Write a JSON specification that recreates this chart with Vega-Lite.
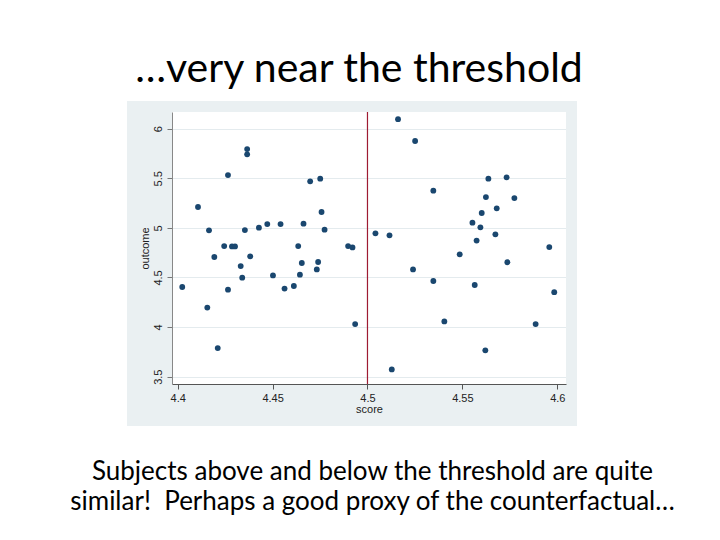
{
  "$schema": "https://vega.github.io/schema/vega-lite/v6.json",
  "width": 394,
  "height": 272,
  "autosize": {"type": "none"},
  "padding": {"left": 172, "top": 112, "right": 154, "bottom": 156},
  "background": "white",
  "config": {"view": {"fill": "white", "stroke": null}},
  "title": {
    "text": "…very near the threshold",
    "font": "Lato",
    "fontSize": 41,
    "fontWeight": "normal",
    "color": "#000000",
    "anchor": "middle",
    "frame": "group",
    "dx": -10,
    "offset": 10
  },
  "data": {
    "values": [
      {"score": 4.4024, "outcome": 4.404},
      {"score": 4.4107, "outcome": 5.210},
      {"score": 4.4156, "outcome": 4.196},
      {"score": 4.4165, "outcome": 4.975},
      {"score": 4.4193, "outcome": 4.706},
      {"score": 4.4211, "outcome": 3.788},
      {"score": 4.4245, "outcome": 4.816},
      {"score": 4.4265, "outcome": 5.532},
      {"score": 4.4265, "outcome": 4.377},
      {"score": 4.4286, "outcome": 4.813},
      {"score": 4.4302, "outcome": 4.813},
      {"score": 4.4332, "outcome": 4.615},
      {"score": 4.4340, "outcome": 4.498},
      {"score": 4.4354, "outcome": 4.978},
      {"score": 4.4366, "outcome": 5.794},
      {"score": 4.4366, "outcome": 5.741},
      {"score": 4.4382, "outcome": 4.713},
      {"score": 4.4428, "outcome": 5.002},
      {"score": 4.4472, "outcome": 5.038},
      {"score": 4.4502, "outcome": 4.521},
      {"score": 4.4542, "outcome": 5.038},
      {"score": 4.4563, "outcome": 4.388},
      {"score": 4.4612, "outcome": 4.414},
      {"score": 4.4635, "outcome": 4.816},
      {"score": 4.4644, "outcome": 4.528},
      {"score": 4.4654, "outcome": 4.646},
      {"score": 4.4663, "outcome": 5.042},
      {"score": 4.4698, "outcome": 5.469},
      {"score": 4.4733, "outcome": 4.581},
      {"score": 4.4740, "outcome": 4.656},
      {"score": 4.4751, "outcome": 5.496},
      {"score": 4.4758, "outcome": 5.160},
      {"score": 4.4774, "outcome": 4.982},
      {"score": 4.4898, "outcome": 4.816},
      {"score": 4.4921, "outcome": 4.803},
      {"score": 4.4935, "outcome": 4.030},
      {"score": 4.5042, "outcome": 4.945},
      {"score": 4.5116, "outcome": 4.925},
      {"score": 4.5128, "outcome": 3.573},
      {"score": 4.5161, "outcome": 6.096},
      {"score": 4.5240, "outcome": 4.581},
      {"score": 4.5251, "outcome": 5.876},
      {"score": 4.5347, "outcome": 5.375},
      {"score": 4.5347, "outcome": 4.464},
      {"score": 4.5405, "outcome": 4.057},
      {"score": 4.5486, "outcome": 4.733},
      {"score": 4.5553, "outcome": 5.052},
      {"score": 4.5565, "outcome": 4.424},
      {"score": 4.5575, "outcome": 4.872},
      {"score": 4.5595, "outcome": 5.005},
      {"score": 4.5602, "outcome": 5.150},
      {"score": 4.5621, "outcome": 3.765},
      {"score": 4.5624, "outcome": 5.310},
      {"score": 4.5637, "outcome": 5.496},
      {"score": 4.5674, "outcome": 4.935},
      {"score": 4.5681, "outcome": 5.197},
      {"score": 4.5733, "outcome": 5.509},
      {"score": 4.5737, "outcome": 4.653},
      {"score": 4.5774, "outcome": 5.300},
      {"score": 4.5886, "outcome": 4.030},
      {"score": 4.5958, "outcome": 4.806},
      {"score": 4.5984, "outcome": 4.352}
    ]
  },
  "resolve": {"axis": {"x": "independent", "y": "independent"}},
  "layer": [
    {
      "data": {"values": [{}]},
      "mark": {"type": "rect", "color": "#eaf0f2"},
      "encoding": {
        "x": {"datum": 4.3733, "type": "quantitative", "scale": {"domain": [4.397, 4.6046], "nice": false, "zero": false}, "axis": null},
        "x2": {"datum": 4.6104},
        "y": {"datum": 6.168, "type": "quantitative", "scale": {"domain": [3.426, 6.168], "nice": false, "zero": false},
              "axis": {"orient": "left", "grid": true, "gridColor": "#e4ebee", "gridWidth": 1, "domain": false, "ticks": false, "labels": false, "title": null, "values": [3.5, 4, 4.5, 5, 5.5, 6], "zindex": 0}},
        "y2": {"datum": 6.2789}
      }
    },
    {
      "data": {"values": [{}]},
      "mark": {"type": "rect", "color": "#eaf0f2"},
      "encoding": {
        "x": {"datum": 4.3733, "type": "quantitative", "scale": {"domain": [4.397, 4.6046], "nice": false, "zero": false}, "axis": null},
        "x2": {"datum": 4.6104},
        "y": {"datum": 3.0027, "type": "quantitative", "scale": {"domain": [3.426, 6.168], "nice": false, "zero": false}, "axis": null},
        "y2": {"datum": 3.426}
      }
    },
    {
      "data": {"values": [{}]},
      "mark": {"type": "rect", "color": "#eaf0f2"},
      "encoding": {
        "x": {"datum": 4.3733, "type": "quantitative", "scale": {"domain": [4.397, 4.6046], "nice": false, "zero": false}, "axis": null},
        "x2": {"datum": 4.397},
        "y": {"datum": 3.426, "type": "quantitative", "scale": {"domain": [3.426, 6.168], "nice": false, "zero": false}, "axis": null},
        "y2": {"datum": 6.168}
      }
    },
    {
      "data": {"values": [{}]},
      "mark": {"type": "rect", "color": "#eaf0f2"},
      "encoding": {
        "x": {"datum": 4.6046, "type": "quantitative", "scale": {"domain": [4.397, 4.6046], "nice": false, "zero": false}, "axis": null},
        "x2": {"datum": 4.6104},
        "y": {"datum": 3.426, "type": "quantitative", "scale": {"domain": [3.426, 6.168], "nice": false, "zero": false}, "axis": null},
        "y2": {"datum": 6.168}
      }
    },
    {
      "data": {"values": [{}]},
      "mark": {"type": "rule", "color": "#9e1b32", "strokeWidth": 1.2},
      "encoding": {
        "x": {
          "datum": 4.5,
          "type": "quantitative",
          "scale": {"domain": [4.397, 4.6046], "nice": false, "zero": false},
          "axis": {
            "orient": "bottom",
            "domain": false,
            "ticks": false,
            "labels": false,
            "grid": false,
            "zindex": 1,
            "title": ["Subjects above and below the threshold are quite", "similar!\u00a0 Perhaps a good proxy of the counterfactual…"],
            "titleFont": "Lato",
            "titleFontSize": 26,
            "titleFontWeight": "normal",
            "titleColor": "#000000",
            "titleLineHeight": 30,
            "titlePadding": 74,
            "titleLimit": 2000,
            "titleX": 200
          }
        }
      }
    },
    {
      "mark": {"type": "circle", "size": 34, "color": "#1a476f", "opacity": 1},
      "encoding": {
        "x": {
          "field": "score",
          "type": "quantitative",
          "scale": {"domain": [4.397, 4.6046], "nice": false, "zero": false},
          "axis": {
            "orient": "bottom",
            "values": [4.4, 4.45, 4.5, 4.55, 4.6],
            "format": ".2~f",
            "grid": false,
            "zindex": 1,
            "title": "score",
            "titleFont": "Liberation Sans",
            "titleFontSize": 11,
            "titleFontWeight": "normal",
            "titleColor": "#222222",
            "titlePadding": 0,
            "labelFont": "Liberation Sans",
            "labelFontSize": 11,
            "labelColor": "#222222",
            "labelPadding": 3,
            "labelFlush": false,
            "tickSize": 5,
            "tickColor": "#555555",
            "domainColor": "#555555"
          }
        },
        "y": {
          "field": "outcome",
          "type": "quantitative",
          "scale": {"domain": [3.426, 6.168], "nice": false, "zero": false},
          "axis": {
            "orient": "left",
            "values": [3.5, 4, 4.5, 5, 5.5, 6],
            "format": ".1~f",
            "grid": false,
            "zindex": 1,
            "labelAngle": 270,
            "labelAlign": "center",
            "labelBaseline": "bottom",
            "labelPadding": 4,
            "labelFont": "Liberation Sans",
            "labelFontSize": 11,
            "labelColor": "#222222",
            "tickSize": 5,
            "tickColor": "#777777",
            "domainColor": "#888888",
            "title": "outcome",
            "titleFont": "Liberation Sans",
            "titleFontSize": 11,
            "titleFontWeight": "normal",
            "titleColor": "#222222",
            "titlePadding": 2
          }
        }
      }
    }
  ]
}
